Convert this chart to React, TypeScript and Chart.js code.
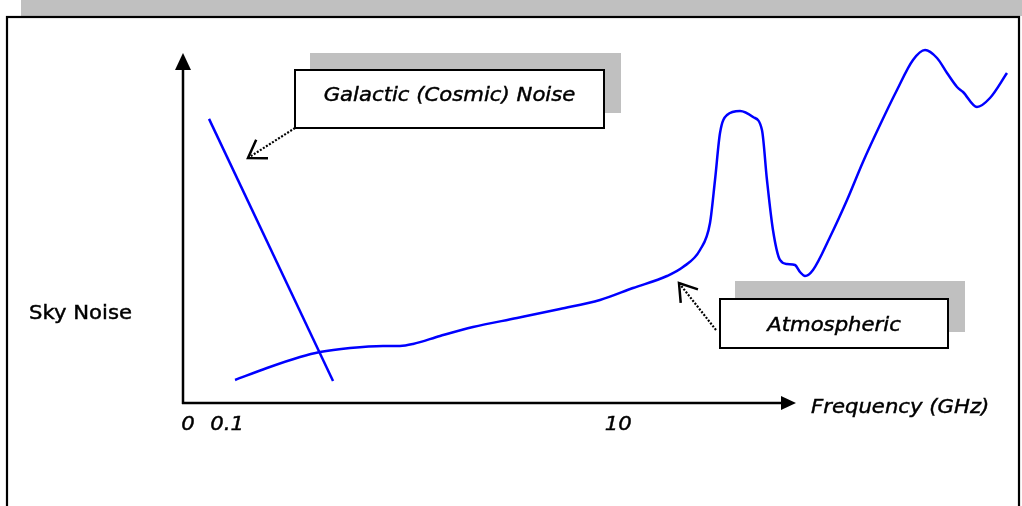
import React, { useEffect, useRef } from "react";
import { Chart, registerables } from "chart.js";

Chart.register(...registerables);

// Relative units: x 0..100 along the frequency axis, y 0..100 along the sky-noise axis
const galacticX = [3.12, 17.99];
const galacticY = [73.6, 5.7];

const atmosX = [
  6.24, 10.07, 14.03, 16.43, 20.02, 23.98, 26.02, 27.58, 30.82, 34.77, 40.05, 45.2, 50.0, 53.96,
  58.03, 59.95, 61.99, 63.19, 63.79, 64.39, 65.23, 66.79, 68.35, 69.42, 70.02, 70.74, 71.58,
  72.42, 73.38, 73.98, 74.58, 75.54, 77.58, 79.62, 81.53, 83.57, 85.61, 87.53, 88.97, 90.41,
  91.61, 92.81, 93.53, 95.2, 96.76, 98.8,
];
const atmosY = [
  5.96, 9.07, 11.92, 13.21, 14.25, 14.77, 14.77, 15.28, 17.36, 19.69, 22.02, 24.35, 26.68, 29.79,
  32.9, 35.23, 39.64, 46.63, 57.77, 69.95, 74.61, 75.65, 74.09, 70.73, 57.77, 44.82, 37.05,
  36.01, 35.75, 33.94, 32.9, 34.46, 43.01, 52.59, 62.44, 72.02, 81.09, 88.86, 91.45, 89.38,
  85.49, 81.87, 80.57, 76.68, 79.02, 85.49,
];

const tickValues = [0.6, 5.3, 52.2];
const tickLabels = ["0", "0.1", "10"];

const yAxisTitle = "Sky Noise";
const xAxisTitle = "Frequency (GHz)";
const galacticLabel = "Galactic (Cosmic) Noise";
const atmosLabel = "Atmospheric";

const FONT = "'DejaVu Sans', Verdana, sans-serif";
const STRETCH = 1.06;

function stretchText(
  ctx: CanvasRenderingContext2D,
  text: string,
  x: number,
  y: number,
  italic: boolean,
  align: "left" | "center"
) {
  ctx.save();
  ctx.font = `${italic ? "italic " : ""}20px ${FONT}`;
  ctx.fillStyle = "#000";
  ctx.strokeStyle = "#000";
  ctx.lineWidth = 0.45;
  ctx.textBaseline = "alphabetic";
  const w = ctx.measureText(text).width * STRETCH;
  const left = align === "center" ? x - w / 2 : x;
  ctx.translate(left, y);
  ctx.scale(STRETCH, 1);
  ctx.textAlign = "left";
  ctx.fillText(text, 0, 0);
  ctx.strokeText(text, 0, 0);
  ctx.restore();
}

function openArrow(
  ctx: CanvasRenderingContext2D,
  x1: number,
  y1: number,
  x2: number,
  y2: number
) {
  ctx.save();
  ctx.strokeStyle = "#000";
  ctx.lineWidth = 2.2;
  ctx.setLineDash([2, 1.6]);
  ctx.beginPath();
  ctx.moveTo(x1, y1);
  ctx.lineTo(x2, y2);
  ctx.stroke();
  ctx.setLineDash([]);
  ctx.lineWidth = 2.5;
  const ang = Math.atan2(y1 - y2, x1 - x2);
  const len = 20;
  const spread = 0.58;
  ctx.beginPath();
  ctx.moveTo(x2 + len * Math.cos(ang + spread), y2 + len * Math.sin(ang + spread));
  ctx.lineTo(x2, y2);
  ctx.lineTo(x2 + len * Math.cos(ang - spread), y2 + len * Math.sin(ang - spread));
  ctx.stroke();
  ctx.restore();
}

const decorPlugin = {
  id: "decor",
  beforeDatasetsDraw(chart: any) {
    const ctx: CanvasRenderingContext2D = chart.ctx;
    const xs = chart.scales.x;
    const ys = chart.scales.y;
    const x0 = xs.getPixelForValue(0);
    const y0 = ys.getPixelForValue(0);
    ctx.save();
    // top gray bar and frame
    ctx.fillStyle = "#c0c0c0";
    ctx.fillRect(21, 0, 1001, 16);
    ctx.strokeStyle = "#000";
    ctx.lineWidth = 2.2;
    ctx.strokeRect(7, 17, 1012, 510);

    // shadows
    ctx.fillStyle = "#c0c0c0";
    ctx.fillRect(310, 53, 311, 60);
    ctx.fillRect(735, 281, 230, 51);
    // boxes
    ctx.fillStyle = "#fff";
    ctx.fillRect(295, 70, 309, 58);
    ctx.fillRect(720, 299, 228, 49);
    ctx.lineWidth = 2;
    ctx.strokeRect(295, 70, 309, 58);
    ctx.strokeRect(720, 299, 228, 49);

    // axes
    ctx.lineWidth = 2.5;
    ctx.beginPath();
    ctx.moveTo(x0, y0 + 1);
    ctx.lineTo(x0, 68);
    ctx.moveTo(x0 - 1, y0);
    ctx.lineTo(782, y0);
    ctx.stroke();
    ctx.fillStyle = "#000";
    ctx.beginPath();
    ctx.moveTo(x0, 53);
    ctx.lineTo(x0 - 8, 70);
    ctx.lineTo(x0 + 8, 70);
    ctx.closePath();
    ctx.fill();
    ctx.beginPath();
    ctx.moveTo(796, y0);
    ctx.lineTo(781, y0 - 7);
    ctx.lineTo(781, y0 + 7);
    ctx.closePath();
    ctx.fill();
    ctx.restore();

    // pointer arrows
    openArrow(ctx, 295, 128, 248, 158);
    openArrow(ctx, 716, 330, 679, 283);
  },
  afterDatasetsDraw(chart: any) {
    const ctx: CanvasRenderingContext2D = chart.ctx;
    const xs = chart.scales.x;
    stretchText(ctx, galacticLabel, 449.5, 101, true, "center");
    stretchText(ctx, atmosLabel, 834, 331, true, "center");
    stretchText(ctx, yAxisTitle, 29, 319, false, "left");
    stretchText(ctx, xAxisTitle, 811, 413, true, "left");
    tickValues.forEach((v, i) => {
      stretchText(ctx, tickLabels[i], xs.getPixelForValue(v), 430, true, "center");
    });
  },
};

export default function App() {
  const ref = useRef<HTMLCanvasElement | null>(null);
  useEffect(() => {
    document.body.style.margin = "0";
    const canvas = ref.current;
    if (!canvas) return;
    const chart = new Chart(canvas, {
      type: "line",
      data: {
        datasets: [
          {
            label: "Galactic",
            data: galacticX.map((x, i) => ({ x, y: galacticY[i] })),
            borderColor: "#0000ff",
            borderWidth: 2.5,
            pointRadius: 0,
            tension: 0,
            clip: false as any,
          },
          {
            label: "Atmospheric",
            data: atmosX.map((x, i) => ({ x, y: atmosY[i] })),
            borderColor: "#0000ff",
            borderWidth: 2.5,
            pointRadius: 0,
            cubicInterpolationMode: "monotone",
            clip: false as any,
          },
        ],
      },
      options: {
        animation: false,
        responsive: false,
        events: [],
        layout: { padding: { left: 183, top: 17, right: 5, bottom: 103 } },
        plugins: { legend: { display: false }, tooltip: { enabled: false } },
        scales: {
          x: { type: "linear", min: 0, max: 100, display: false },
          y: { type: "linear", min: 0, max: 100, display: false },
        },
      },
      plugins: [decorPlugin],
    });
    return () => chart.destroy();
  }, []);
  return (
    <div style={{ position: "absolute", left: 0, top: 0, width: 1022, height: 506, background: "#fff" }}>
      <canvas ref={ref} width={1022} height={506} style={{ display: "block" }} />
    </div>
  );
}
